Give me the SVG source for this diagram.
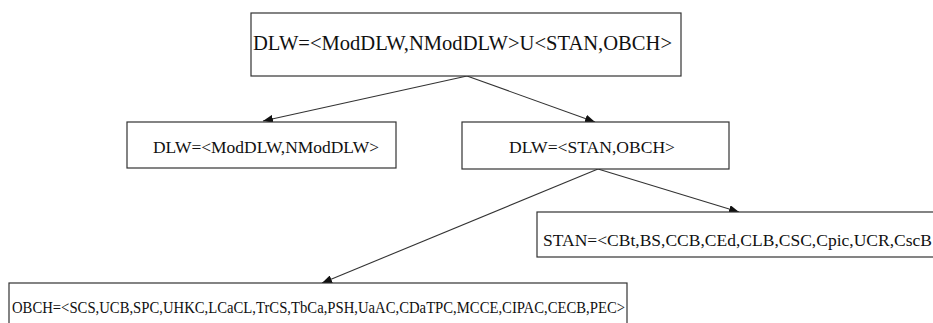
<svg xmlns="http://www.w3.org/2000/svg" width="933" height="323" viewBox="0 0 933 323">
<style>
.box{fill:#fff;stroke:#333;stroke-width:1.2}
.t{font-family:"Liberation Serif","Times New Roman",serif;fill:#111}
.edge{stroke:#333;stroke-width:1.1;fill:none;marker-end:url(#ah)}
</style>
<defs>
<marker id="ah" viewBox="0 0 10 8" refX="10" refY="4" markerWidth="10" markerHeight="8" markerUnits="userSpaceOnUse" orient="auto">
<path d="M0,0 L10,4 L0,8 Z" fill="#111"/>
</marker>
</defs>
<rect width="933" height="323" fill="#fff"/>
<g id="edges">
<line class="edge" x1="467" y1="76" x2="263" y2="121"/>
<line class="edge" x1="467" y1="76" x2="595" y2="122"/>
<line class="edge" x1="598" y1="169" x2="739" y2="212"/>
<line class="edge" x1="598" y1="169" x2="322" y2="283"/>
</g>
<g id="n_root">
<rect class="box" x="251" y="13" width="430" height="63"/>
<text class="t" x="253" y="50" font-size="20" textLength="419" lengthAdjust="spacingAndGlyphs">DLW=&lt;ModDLW,NModDLW&gt;U&lt;STAN,OBCH&gt;</text>
</g>
<g id="n_mod">
<rect class="box" x="127" y="122" width="269" height="46"/>
<text class="t" x="153" y="153" font-size="17" textLength="226" lengthAdjust="spacingAndGlyphs">DLW=&lt;ModDLW,NModDLW&gt;</text>
</g>
<g id="n_stanobch">
<rect class="box" x="462" y="122" width="267" height="47"/>
<text class="t" x="509" y="153" font-size="17" textLength="166" lengthAdjust="spacingAndGlyphs">DLW=&lt;STAN,OBCH&gt;</text>
</g>
<g id="n_stan">
<rect class="box" x="537" y="212" width="420" height="45"/>
<text class="t" x="543" y="246" font-size="17" textLength="389" lengthAdjust="spacingAndGlyphs">STAN=&lt;CBt,BS,CCB,CEd,CLB,CSC,Cpic,UCR,CscB</text>
</g>
<g id="n_obch">
<rect class="box" x="9" y="283" width="618" height="60"/>
<text class="t" x="12" y="313" font-size="17" textLength="613" lengthAdjust="spacingAndGlyphs">OBCH=&lt;SCS,UCB,SPC,UHKC,LCaCL,TrCS,TbCa,PSH,UaAC,CDaTPC,MCCE,CIPAC,CECB,PEC&gt;</text>
</g>
</svg>
